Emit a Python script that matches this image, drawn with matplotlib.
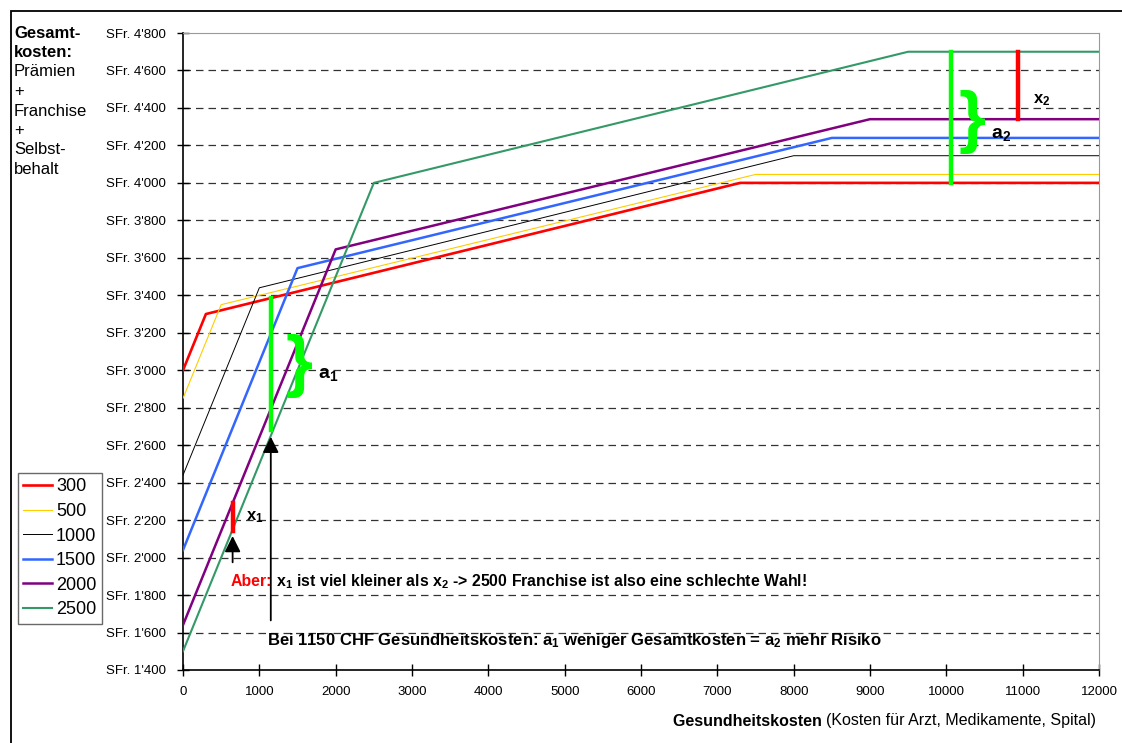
import matplotlib
matplotlib.use("Agg")
import matplotlib.pyplot as plt
from matplotlib.patches import Rectangle

plt.rcParams['font.family'] = ['Liberation Sans', 'DejaVu Sans']
plt.rcParams['mathtext.fontset'] = 'custom'
plt.rcParams['mathtext.rm'] = 'Liberation Sans'
plt.rcParams['mathtext.bf'] = 'Liberation Sans:bold'

# franchise curves: breakpoints (health cost -> total cost)
franchises = ["300", "500", "1000", "1500", "2000", "2500"]
x_300 = [0, 300, 7300, 12000]
y_300 = [3000, 3300, 4000, 4000]
x_500 = [0, 500, 7500, 12000]
y_500 = [2850, 3350, 4045, 4045]
x_1000 = [0, 1000, 8000, 12000]
y_1000 = [2440, 3440, 4145, 4145]
x_1500 = [0, 1500, 8500, 12000]
y_1500 = [2040, 3545, 4240, 4240]
x_2000 = [0, 2000, 9000, 12000]
y_2000 = [1640, 3645, 4340, 4340]
x_2500 = [0, 2500, 9500, 12000]
y_2500 = [1500, 4000, 4700, 4700]

colors = ["#FF0000", "#FFCC00", "#000000", "#3366FF", "#800080", "#339966"]
widths = [1.9, 0.8, 0.7, 1.8, 1.8, 1.5]

yticks = list(range(1400, 4801, 200))
xticks = list(range(0, 12001, 1000))

fig = plt.figure(figsize=(11.22, 7.43), dpi=100)
ax = fig.add_axes([183/1122, 73/743, 916/1122, 637/743])

xs = [x_300, x_500, x_1000, x_1500, x_2000, x_2500]
ys = [y_300, y_500, y_1000, y_1500, y_2000, y_2500]
for xv, yv, lab, c, w in zip(xs, ys, franchises, colors, widths):
    ax.plot(xv, yv, color=c, lw=w, label=lab, zorder=3)

for yt in yticks[1:-1]:
    ax.axhline(yt, color="#333333", lw=0.9, ls=(0, (6, 4)), zorder=1)

ax.set_xlim(0, 12000)
ax.set_ylim(1400, 4800)
ax.set_yticks(yticks)
ax.set_yticklabels(["SFr. " + f"{v:,}".replace(",", "'") for v in yticks])
ax.set_xticks(xticks)
ax.tick_params(direction='inout', length=9, width=1, labelsize=9.5)
ax.tick_params(axis='y', pad=8)
ax.tick_params(axis='x', pad=7)
for s in ["top", "right"]:
    ax.spines[s].set_color("#999999")
for s in ["left", "bottom"]:
    ax.spines[s].set_linewidth(1.2)

# annotations around 1150
ax.plot([1150, 1150], [3385, 2680], color="#00FF00", lw=3.2, zorder=4)
ax.annotate("", xy=(1150, 2660), xytext=(1150, 1650),
            arrowprops=dict(arrowstyle='-|>,head_length=0.8,head_width=0.4',
                            mutation_scale=12, color="black", lw=1.3), zorder=5)
ax.text(1520, 3025, "}", fontsize=50, color="#00FF00", fontweight="bold",
        ha="center", va="center", zorder=5)
ax.text(1770, 2975, r"$\mathbf{a_1}$", fontsize=14, ha="left", va="center")

ax.plot([650, 650], [2293, 2140], color="#FF0000", lw=3.2, zorder=4)
ax.annotate("", xy=(650, 2130), xytext=(650, 1960),
            arrowprops=dict(arrowstyle='-|>,head_length=0.8,head_width=0.4',
                            mutation_scale=12, color="black", lw=1.3), zorder=5)
ax.text(820, 2215, r"$\mathbf{x_1}$", fontsize=12, ha="left", va="center")

# annotations at high costs
ax.plot([10060, 10060], [4700, 4000], color="#00FF00", lw=3.2, zorder=4)
ax.text(10340, 4325, "}", fontsize=50, color="#00FF00", fontweight="bold",
        ha="center", va="center", zorder=5)
ax.text(10590, 4256, r"$\mathbf{a_2}$", fontsize=14, ha="left", va="center")
ax.plot([10940, 10940], [4700, 4340], color="#FF0000", lw=3.2, zorder=4)
ax.text(11140, 4440, r"$\mathbf{x_2}$", fontsize=12, ha="left", va="center")

t1 = ax.text(630, 1872, "Aber:", color="#FF0000", fontsize=11.4,
             fontweight="bold", ha="left", va="center")
ax.annotate(r" $\mathbf{x_1}$ ist viel kleiner als $\mathbf{x_2}$ -> 2500 Franchise ist also eine schlechte Wahl!",
            xy=(1, 0.5), xycoords=t1, va="center", ha="left",
            fontsize=11.4, fontweight="bold")
ax.text(1100, 1560,
        r"Bei 1150 CHF Gesundheitskosten: $\mathbf{a_1}$ weniger Gesamtkosten = $\mathbf{a_2}$ mehr Risiko",
        fontsize=12, fontweight="bold", ha="left", va="center")

# y-axis title block
lines = [("Gesamt-", "bold"), ("kosten:", "bold"), ("Prämien", "normal"),
         ("+", "normal"), ("Franchise", "normal"), ("+", "normal"),
         ("Selbst-", "normal"), ("behalt", "normal")]
for i, (txt, wt) in enumerate(lines):
    fig.text(14/1122, 1 - (33 + i * 19.5)/743, txt, fontsize=12,
             fontweight=wt, ha="left", va="center")

# x-axis title
t2 = fig.text(1096/1122, 1 - 721/743, "(Kosten für Arzt, Medikamente, Spital)",
              fontsize=11.5, ha="right", va="center")
fig.canvas.draw()
bb = t2.get_window_extent()
fig.text(bb.x0/1122, 1 - 721/743, "Gesundheitskosten ", fontsize=11.5,
         fontweight="bold", ha="right", va="center")

leg = ax.legend(loc="upper left", bbox_to_anchor=(18/1122, 1 - 473/743),
                bbox_transform=fig.transFigure, fontsize=13, frameon=True,
                fancybox=False, edgecolor="#444444", handlelength=1.6,
                handletextpad=0.2, labelspacing=0.42, borderpad=0.3,
                borderaxespad=0)
leg.get_frame().set_linewidth(1.0)

fig.patches.append(Rectangle((11/1122, -0.1), 1.2, (743 - 11)/743 + 0.1,
                             transform=fig.transFigure, fill=False,
                             edgecolor="black", lw=1.3))

fig.savefig("out.png", dpi=100)
